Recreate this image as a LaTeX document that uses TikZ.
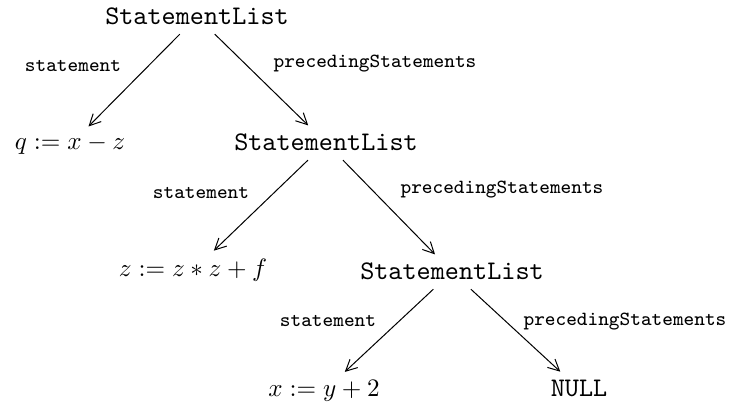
\documentclass[tikz,border=0pt]{standalone}
\usepackage{amsmath}
\usepackage{tikz}
\usetikzlibrary{arrows.meta}

\begin{document}
\begin{tikzpicture}[x=0.398pt,y=-0.398pt,
  lst/.style={anchor=base,font=\fontsize{10.7}{12}\selectfont\ttfamily},
  lbl/.style={anchor=base,font=\footnotesize\ttfamily},
  ptr/.style={-{Straight Barb[length=4.5pt,width=4.5pt]},thin}]
 \useasboundingbox (0,0) rectangle (737,412);
 % first level
 \node[lst] (sl1) at (197,25) {StatementList};
 \node[anchor=base] (q) at (70,150) {$q := x - z$};
 \node[lst] (sl2) at (326,151) {StatementList};
 \node[lbl] (st1) at (73,72) {statement};
 \node[lbl] (ps1) at (375,68) {precedingStatements};
 \draw[ptr] (sl1) -- (q);
 \draw[ptr] (sl1) -- (sl2);
 % second level
 \node[anchor=base] (zf) at (193,277) {$z := z * z + f$};
 \node[lst] (sl3) at (452,280) {StatementList};
 \node[lbl] (st2) at (201,199) {statement};
 \node[lbl] (ps2) at (502,194) {precedingStatements};
 \draw[ptr] (sl2) -- (zf);
 \draw[ptr] (sl2) -- (sl3);
 % third level
 \node[anchor=base] (xy) at (324,397) {$x := y + 2$};
 \node[lst] (nul) at (579,397) {NULL};
 \node[lbl] (st3) at (328,327) {statement};
 \node[lbl] (ps3) at (625,326) {precedingStatements};
 \draw[ptr] (sl3) -- (xy);
 \draw[ptr] (sl3) -- (nul);
\end{tikzpicture}
\end{document}
